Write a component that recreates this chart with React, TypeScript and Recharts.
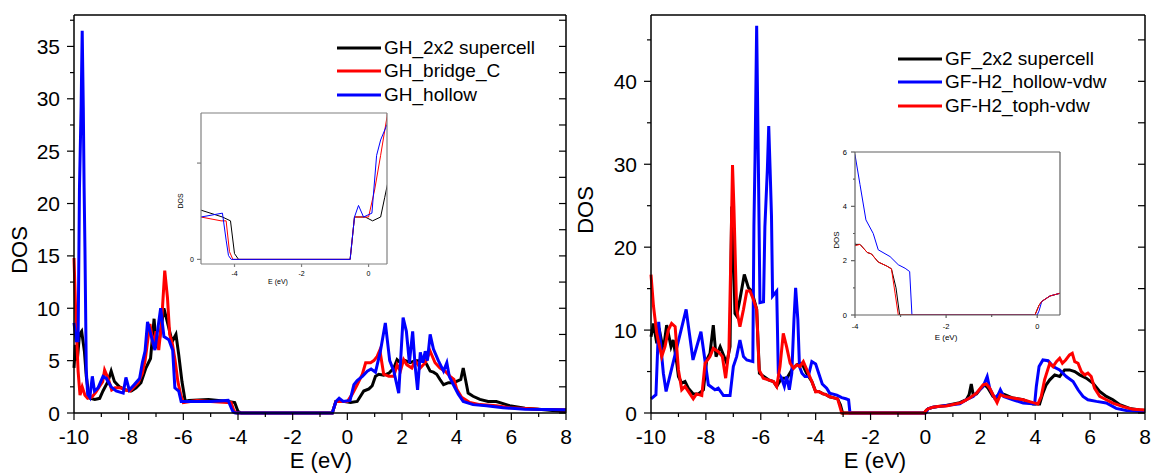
import React from 'react';
import { LineChart, Line, XAxis, YAxis } from 'recharts';

const FONT = 'Arial, "Liberation Sans", Helvetica, sans-serif';

type Pt = [number, number];

// ---- left panel: graphene + H (E in eV, DOS) ----
const ghSupercell: Pt[] = [
  [-10, 4.3], [-9.95, 6.5], [-9.88, 5.0], [-9.8, 7.5], [-9.72, 7.8], [-9.62, 5.9], [-9.55, 3.5],
  [-9.48, 2.1], [-9.4, 1.4], [-9.24, 1.3], [-9.06, 1.4], [-8.94, 2.1], [-8.76, 3.0], [-8.64, 4.0],
  [-8.52, 3.0], [-8.34, 2.5], [-8.1, 2.2], [-7.9, 2.1], [-7.73, 2.4], [-7.55, 2.9], [-7.37, 4.3],
  [-7.2, 5.2], [-7.07, 9.0], [-6.99, 6.2], [-6.87, 7.1], [-6.71, 10.0], [-6.53, 8.1], [-6.41, 6.8],
  [-6.27, 7.5], [-6.17, 5.6], [-6.05, 3.0], [-5.93, 1.1], [-5.8, 1.2], [-5.08, 1.3], [-4.36, 1.1],
  [-4.12, 1.0], [-4.0, 0.15], [-3.88, 0], [-0.55, 0], [-0.42, 1.1], [-0.1, 1.1], [0.12, 1.0],
  [0.36, 1.1], [0.48, 1.6], [0.6, 2.1], [0.79, 2.3], [0.91, 2.6], [1.03, 3.5], [1.15, 3.7],
  [1.33, 3.6], [1.52, 3.8], [1.7, 4.3], [1.82, 5.1], [1.94, 4.8], [2.12, 5.0], [2.3, 4.8],
  [2.48, 5.0], [2.67, 5.0], [2.79, 5.1], [2.91, 4.6], [3.03, 4.0], [3.15, 3.9], [3.27, 3.7],
  [3.39, 3.2], [3.52, 2.7], [3.7, 2.9], [3.88, 2.9], [4.06, 3.1], [4.15, 3.2], [4.24, 4.3],
  [4.33, 3.1], [4.42, 1.9], [4.6, 1.6], [4.85, 1.3], [5.15, 1.1], [5.45, 1.1], [5.7, 0.9],
  [5.94, 0.7], [6.5, 0.45], [7, 0.35], [7.5, 0.25], [8, 0.15],
];

const ghBridgeC: Pt[] = [
  [-10, 14.8], [-9.93, 9.0], [-9.85, 4.0], [-9.78, 1.7], [-9.7, 2.5], [-9.6, 1.7], [-9.5, 1.4],
  [-9.35, 1.5], [-9.2, 2.0], [-9.05, 2.6], [-8.95, 3.0], [-8.88, 4.1], [-8.75, 3.3], [-8.62, 2.2],
  [-8.5, 2.4], [-8.3, 2.4], [-8.1, 2.2], [-7.95, 2.1], [-7.8, 2.5], [-7.65, 2.9], [-7.5, 3.8],
  [-7.4, 5.0], [-7.3, 7.0], [-7.22, 8.5], [-7.1, 6.5], [-7.0, 7.8], [-6.9, 6.0], [-6.8, 8.5],
  [-6.68, 13.6], [-6.58, 11.0], [-6.5, 7.5], [-6.4, 6.6], [-6.3, 5.0], [-6.2, 3.0], [-6.1, 1.8],
  [-6.0, 1.0], [-5.5, 1.2], [-5.0, 1.1], [-4.4, 1.0], [-4.25, 1.0], [-4.15, 0.2], [-4.05, 0],
  [-0.55, 0], [-0.42, 1.1], [0.0, 1.1], [0.18, 1.8], [0.36, 2.7], [0.55, 3.7], [0.67, 4.8],
  [0.85, 4.8], [0.97, 5.0], [1.09, 5.4], [1.19, 6.0], [1.33, 3.7], [1.52, 3.5], [1.7, 3.5],
  [1.82, 4.6], [1.94, 4.0], [2.06, 5.1], [2.18, 4.6], [2.36, 4.3], [2.48, 5.0], [2.67, 4.3],
  [2.85, 4.8], [3.03, 5.9], [3.21, 4.8], [3.39, 4.3], [3.58, 4.0], [3.76, 3.5], [3.9, 3.2],
  [4.0, 2.3], [4.18, 1.5], [4.48, 1.0], [4.85, 0.8], [5.45, 0.7], [5.94, 0.5], [7, 0.35], [8, 0.3],
];

const ghHollow: Pt[] = [
  [-10, 8.6], [-9.92, 6.9], [-9.85, 6.9], [-9.8, 21.5], [-9.74, 29.2], [-9.7, 36.5], [-9.66, 29.2],
  [-9.63, 21.5], [-9.6, 15.8], [-9.55, 4.0], [-9.5, 1.8], [-9.42, 1.5], [-9.33, 3.5], [-9.25, 2.1],
  [-9.12, 2.4], [-8.94, 3.5], [-8.82, 3.3], [-8.64, 2.5], [-8.46, 2.1], [-8.2, 1.9], [-8.1, 3.4],
  [-7.98, 2.2], [-7.8, 2.7], [-7.6, 3.3], [-7.5, 4.8], [-7.4, 5.9], [-7.31, 8.7], [-7.19, 7.5],
  [-7.04, 6.0], [-6.83, 10.0], [-6.71, 7.3], [-6.53, 7.0], [-6.39, 6.0], [-6.31, 2.4], [-6.17, 2.1],
  [-6.08, 1.1], [-5.9, 1.1], [-5.0, 1.1], [-4.36, 1.2], [-4.25, 0.5], [-4.18, 0.1], [-4.1, 0],
  [-0.55, 0], [-0.42, 1.1], [-0.3, 1.4], [-0.15, 1.1], [0.1, 1.2], [0.24, 2.7], [0.36, 3.1],
  [0.55, 3.5], [0.73, 4.0], [0.87, 4.2], [1.03, 3.9], [1.21, 5.9], [1.39, 8.6], [1.55, 5.0],
  [1.7, 4.0], [1.88, 1.9], [2.04, 9.1], [2.16, 7.8], [2.27, 4.8], [2.39, 7.8], [2.48, 4.5],
  [2.57, 2.2], [2.67, 5.8], [2.76, 4.8], [2.85, 5.9], [2.93, 5.0], [3.03, 7.5], [3.15, 6.1],
  [3.33, 5.0], [3.52, 4.0], [3.64, 4.8], [3.73, 3.5], [3.88, 2.7], [4.06, 1.8], [4.24, 1.1],
  [4.6, 0.8], [5.09, 0.7], [5.7, 0.5], [6.5, 0.35], [8, 0.3],
];

// ---- right panel: fluorographene + H2 ----
const gfSupercell: Pt[] = [
  [-10, 9.2], [-9.91, 10.8], [-9.79, 8.4], [-9.67, 9.6], [-9.55, 7.6], [-9.43, 10.6], [-9.27, 8.0],
  [-9.19, 8.8], [-9.06, 6.0], [-9.0, 4.4], [-8.88, 3.6], [-8.76, 3.8], [-8.64, 3.0], [-8.46, 2.3],
  [-8.27, 2.3], [-8.09, 2.8], [-7.97, 6.4], [-7.85, 7.2], [-7.73, 10.6], [-7.63, 6.8], [-7.48, 8.0],
  [-7.36, 7.0], [-7.24, 6.0], [-7.12, 8.0], [-7.06, 24.9], [-7.0, 20.0], [-6.94, 12.0], [-6.88, 11.7],
  [-6.76, 13.7], [-6.6, 16.7], [-6.45, 15.1], [-6.33, 14.7], [-6.15, 12.5], [-6.05, 4.8], [-5.97, 4.6],
  [-5.72, 4.0], [-5.54, 3.8], [-5.42, 3.2], [-5.24, 4.2], [-5.05, 4.2], [-4.87, 5.2], [-4.69, 5.8],
  [-4.5, 6.0], [-4.33, 4.8], [-4.14, 3.8], [-4.0, 2.6], [-3.89, 2.6], [-3.73, 2.3], [-3.64, 2.25],
  [-3.49, 1.95], [-3.3, 1.8], [-3.2, 1.7], [-3.1, 1.0], [-3.02, 0], [-0.05, 0], [0.04, 0.36],
  [0.1, 0.5], [0.28, 0.7], [0.5, 0.8], [0.76, 0.9], [1.25, 1.25], [1.49, 1.6], [1.59, 2.2],
  [1.67, 3.5], [1.74, 2.2], [1.86, 2.3], [1.98, 2.8], [2.16, 3.4], [2.28, 3.0], [2.46, 2.0],
  [2.58, 1.8], [2.7, 2.4], [2.89, 2.2], [3.19, 1.8], [3.56, 1.6], [3.92, 1.1], [4.16, 1.1],
  [4.28, 2.4], [4.4, 3.4], [4.53, 4.0], [4.71, 4.6], [4.89, 4.4], [5.07, 5.2], [5.25, 5.2],
  [5.44, 5.0], [5.62, 4.6], [5.86, 4.2], [6.1, 3.6], [6.35, 2.6], [6.59, 2.0], [6.83, 1.6],
  [7.08, 1.0], [7.44, 0.56], [7.8, 0.36], [8, 0.3],
];

const gfHollowVdw: Pt[] = [
  [-10, 1.7], [-9.82, 2.2], [-9.72, 11.0], [-9.64, 8.0], [-9.55, 4.8], [-9.45, 2.6], [-8.72, 12.5],
  [-8.47, 6.4], [-8.18, 9.8], [-7.91, 3.4], [-7.67, 2.8], [-7.55, 3.0], [-7.36, 2.1], [-7.12, 2.1],
  [-7.0, 5.6], [-6.88, 6.8], [-6.76, 8.8], [-6.63, 6.8], [-6.51, 6.4], [-6.29, 6.2], [-6.25, 22.5],
  [-6.21, 30.6], [-6.18, 38.7], [-6.15, 46.7], [-6.12, 38.7], [-6.09, 30.6], [-6.03, 13.3],
  [-5.9, 13.4], [-5.85, 22.5], [-5.76, 29.4], [-5.71, 34.6], [-5.66, 29.4], [-5.61, 23.8],
  [-5.57, 14.1], [-5.42, 14.7], [-5.36, 4.8], [-5.24, 4.2], [-5.14, 3.2], [-5.06, 4.4], [-4.96, 2.8],
  [-4.87, 4.8], [-4.79, 11.3], [-4.73, 15.1], [-4.65, 11.3], [-4.59, 5.6], [-4.5, 4.8], [-4.39, 4.4],
  [-4.27, 4.4], [-4.14, 6.2], [-4.0, 5.9], [-3.89, 4.8], [-3.76, 3.5], [-3.6, 3.0], [-3.49, 2.4],
  [-3.23, 2.15], [-3.05, 1.85], [-2.9, 1.72], [-2.8, 1.6], [-2.75, 0], [0.0, 0], [0.04, 0.15],
  [0.1, 0.5], [0.28, 0.7], [0.5, 0.8], [0.76, 0.9], [1.25, 1.1], [1.49, 1.6], [1.74, 2.0],
  [1.98, 2.8], [2.1, 3.2], [2.25, 4.4], [2.34, 3.0], [2.52, 1.8], [2.65, 2.2], [2.73, 2.8],
  [2.85, 2.0], [3.19, 1.6], [3.56, 1.2], [3.98, 1.1], [4.04, 3.2], [4.14, 5.6], [4.28, 6.4],
  [4.47, 6.3], [4.65, 5.6], [4.89, 5.2], [5.13, 4.4], [5.38, 3.8], [5.56, 2.8], [5.74, 2.0],
  [5.92, 1.6], [6.23, 1.4], [6.59, 1.2], [6.95, 0.56], [7.32, 0.3], [8, 0.15],
];

const gfTophVdw: Pt[] = [
  [-10, 16.7], [-9.91, 12.9], [-9.79, 9.6], [-9.61, 6.8], [-9.49, 8.0], [-9.37, 10.0], [-9.25, 10.8],
  [-9.12, 10.4], [-9.0, 5.2], [-8.88, 2.8], [-8.76, 3.2], [-8.64, 2.6], [-8.46, 1.7], [-8.34, 2.3],
  [-8.15, 2.1], [-8.03, 6.0], [-7.85, 6.8], [-7.73, 7.8], [-7.55, 7.4], [-7.4, 6.8], [-7.28, 4.2],
  [-7.16, 7.6], [-7.08, 20.6], [-7.03, 29.9], [-6.98, 25.0], [-6.94, 20.0], [-6.88, 12.5],
  [-6.76, 10.4], [-6.63, 12.5], [-6.51, 14.7], [-6.39, 14.7], [-6.27, 13.7], [-6.15, 12.5],
  [-6.06, 5.2], [-5.91, 4.2], [-5.72, 4.0], [-5.54, 3.8], [-5.42, 3.2], [-5.3, 5.6], [-5.18, 9.6],
  [-5.06, 8.0], [-4.93, 6.0], [-4.81, 5.4], [-4.69, 5.8], [-4.57, 5.6], [-4.45, 6.2], [-4.27, 4.8],
  [-4.14, 3.8], [-4.0, 2.55], [-3.89, 2.6], [-3.73, 2.3], [-3.64, 2.25], [-3.49, 1.95], [-3.3, 1.8],
  [-3.2, 1.7], [-3.12, 0.8], [-3.05, 0], [-0.05, 0], [0.04, 0.36], [0.1, 0.5], [0.28, 0.7],
  [0.5, 0.8], [0.76, 0.85], [1.31, 1.25], [1.61, 1.8], [1.86, 2.4], [2.1, 3.4], [2.22, 3.5],
  [2.34, 3.0], [2.46, 2.2], [2.61, 1.25], [2.73, 2.2], [2.89, 2.0], [3.19, 1.8], [3.56, 1.6],
  [3.92, 1.25], [4.1, 1.1], [4.22, 2.0], [4.34, 4.0], [4.53, 6.0], [4.65, 5.6], [4.77, 6.2],
  [4.89, 6.6], [4.99, 6.0], [5.11, 6.4], [5.25, 7.0], [5.35, 7.2], [5.44, 6.2], [5.56, 6.0],
  [5.68, 5.0], [5.8, 4.6], [5.92, 4.8], [6.04, 4.4], [6.16, 3.0], [6.35, 2.0], [6.59, 1.6],
  [6.83, 1.2], [7.2, 0.77], [7.56, 0.44], [8, 0.36],
];

// ---- ticks ----
const eTicks = [-10, -9, -8, -7, -6, -5, -4, -3, -2, -1, 0, 1, 2, 3, 4, 5, 6, 7, 8];
const leftDosTicks = [0, 2.5, 5, 7.5, 10, 12.5, 15, 17.5, 20, 22.5, 25, 27.5, 30, 32.5, 35, 37.5];
const rightDosTicks = [0, 5, 10, 15, 20, 25, 30, 35, 40, 45];
const leftInsetETicks = [-4, -2, 0];
const leftInsetDosTicks = [0, 2.5];
const rightInsetETicks = [-4, -3, -2, -1, 0];
const rightInsetDosTicks = [0, 1, 2, 3, 4, 5, 6];

const leftSeries = [
  { name: 'GH_2x2 supercell', color: '#000000', pts: ghSupercell },
  { name: 'GH_bridge_C', color: '#ff0000', pts: ghBridgeC },
  { name: 'GH_hollow', color: '#0000ff', pts: ghHollow },
];
const rightSeries = [
  { name: 'GF_2x2 supercell', color: '#000000', pts: gfSupercell },
  { name: 'GF-H2_hollow-vdw', color: '#0000ff', pts: gfHollowVdw },
  { name: 'GF-H2_toph-vdw', color: '#ff0000', pts: gfTophVdw },
];

const toXY = (pts: Pt[]) => pts.map(([x, y]) => ({ x, y }));

type Side = 'bottom' | 'top' | 'left' | 'right';
interface TickOpts {
  side: Side;
  major: number;
  len: number;
  minorLen: number;
  outward: boolean;
  labels?: boolean;
  fontSize?: number;
  gap?: number;
  stroke?: string;
  only?: number[];
}

// draws tick mark (major/minor) + label; axis uses tickSize=0 so x/y sit on the axis line
function makeTick(o: TickOpts) {
  return function TickMark(props: any) {
    const { x, y, payload } = props;
    const v: number = payload.value;
    const isMajor = Math.abs(v / o.major - Math.round(v / o.major)) < 1e-6;
    const l = isMajor ? o.len : o.minorLen;
    const s = o.outward ? 1 : -1;
    let x2 = x;
    let y2 = y;
    if (o.side === 'bottom') y2 = y + s * l;
    if (o.side === 'top') y2 = y - s * l;
    if (o.side === 'left') x2 = x - s * l;
    if (o.side === 'right') x2 = x + s * l;
    const showLabel = o.labels && isMajor && (!o.only || o.only.includes(v));
    return (
      <g>
        {l > 0 && <line x1={x} y1={y} x2={x2} y2={y2} stroke={o.stroke || '#000'} strokeWidth={1.2} />}
        {showLabel && o.side === 'bottom' && (
          <text x={x} y={y + (o.gap || 0)} textAnchor="middle" dominantBaseline="central"
            fontSize={o.fontSize} fontFamily={FONT} fill="#000">{String(v)}</text>
        )}
        {showLabel && o.side === 'left' && (
          <text x={x - (o.gap || 0)} y={y} textAnchor="end" dominantBaseline="central"
            fontSize={o.fontSize} fontFamily={FONT} fill="#000">{String(v)}</text>
        )}
      </g>
    );
  };
}

interface PanelProps {
  left: number;
  width: number;
  plotLeft: number;
  plotRight: number;
  yMax: number;
  yTicks: number[];
  yMajor: number;
  series: { name: string; color: string; pts: Pt[] }[];
}

// top/right axes are 1px thick (a 0px axis is not drawn), so margins are 1px smaller
function Panel({ left, width, plotLeft, plotRight, yMax, yTicks, yMajor, series }: PanelProps) {
  const frame = { stroke: '#000', strokeWidth: 1.5 };
  return (
    <div style={{ position: 'absolute', left, top: 0 }}>
      <LineChart width={width} height={476} margin={{ top: 14, right: width - plotRight - 1, bottom: 0, left: 0 }}>
        <XAxis xAxisId="b" type="number" dataKey="x" domain={[-10, 8]} ticks={eTicks} interval={0}
          height={63} tickSize={0} tickMargin={0} tickLine={false} axisLine={frame}
          tick={makeTick({ side: 'bottom', major: 2, len: 7, minorLen: 4, outward: true, labels: true, fontSize: 21, gap: 23 })} />
        <XAxis xAxisId="t" orientation="top" type="number" domain={[-10, 8]} ticks={eTicks} interval={0}
          allowDataOverflow height={1} tickSize={0} tickMargin={0} tickLine={false} axisLine={frame}
          tick={makeTick({ side: 'top', major: 2, len: 7, minorLen: 5, outward: false })} />
        <YAxis yAxisId="l" type="number" domain={[0, yMax]} ticks={yTicks} interval={0}
          width={plotLeft} tickSize={0} tickMargin={0} tickLine={false} axisLine={frame}
          tick={makeTick({ side: 'left', major: yMajor, len: 7, minorLen: 4, outward: true, labels: true, fontSize: 21, gap: 14 })} />
        <YAxis yAxisId="r" orientation="right" type="number" domain={[0, yMax]} ticks={yTicks} interval={0}
          allowDataOverflow width={1} tickSize={0} tickMargin={0} tickLine={false} axisLine={frame}
          tick={makeTick({ side: 'right', major: yMajor, len: 7, minorLen: 7, outward: false })} />
        {series.map((s) => (
          <Line key={s.name} xAxisId="b" yAxisId="l" data={toXY(s.pts)} dataKey="y" type="linear"
            stroke={s.color} strokeWidth={3} dot={false} activeDot={false} isAnimationActive={false} />
        ))}
      </LineChart>
    </div>
  );
}

interface InsetProps {
  left: number;
  top: number;
  width: number;
  height: number;
  margin: { top: number; right: number; bottom: number; left: number };
  yWidth: number;
  xHeight: number;
  xDomain: [number, number];
  yDomain: [number, number];
  xTicks: number[];
  yTicks: number[];
  xMajor: number;
  yMajor: number;
  yOnly?: number[];
  fontSize: number;
  xGap: number;
  yGap: number;
  border: string;
  series: { name: string; color: string; pts: Pt[] }[];
}

function Inset(p: InsetProps) {
  const line = { stroke: p.border, strokeWidth: 1.2 };
  return (
    <div style={{ position: 'absolute', left: p.left, top: p.top }}>
      <LineChart width={p.width} height={p.height} margin={p.margin}>
        <XAxis xAxisId="b" type="number" dataKey="x" domain={p.xDomain} ticks={p.xTicks} interval={0}
          allowDataOverflow height={p.xHeight} tickSize={0} tickMargin={0} tickLine={false} axisLine={line}
          tick={makeTick({ side: 'bottom', major: p.xMajor, len: 3, minorLen: 2, outward: true, labels: true, fontSize: p.fontSize, gap: p.xGap, stroke: p.border })} />
        <XAxis xAxisId="t" orientation="top" type="number" domain={p.xDomain} ticks={p.xTicks} interval={0}
          allowDataOverflow height={1} tickSize={0} tickMargin={0} tickLine={false} axisLine={line}
          tick={makeTick({ side: 'top', major: p.xMajor, len: 3, minorLen: 3, outward: true, stroke: p.border })} />
        <YAxis yAxisId="l" type="number" domain={p.yDomain} ticks={p.yTicks} interval={0}
          allowDataOverflow width={p.yWidth} tickSize={0} tickMargin={0} tickLine={false} axisLine={line}
          tick={makeTick({ side: 'left', major: p.yMajor, len: 4, minorLen: 2, outward: true, labels: true, fontSize: p.fontSize, gap: p.yGap, stroke: p.border, only: p.yOnly })} />
        <YAxis yAxisId="r" orientation="right" type="number" domain={p.yDomain} ticks={p.yTicks} interval={0}
          allowDataOverflow width={1} tickSize={0} tickMargin={0} tickLine={false} axisLine={line}
          tick={makeTick({ side: 'right', major: p.yMajor, len: 0, minorLen: 0, outward: true, stroke: p.border })} />
        {p.series.map((s) => (
          <Line key={s.name} xAxisId="b" yAxisId="l" data={toXY(s.pts)} dataKey="y" type="linear"
            stroke={s.color} strokeWidth={1} dot={false} activeDot={false} isAnimationActive={false} />
        ))}
      </LineChart>
    </div>
  );
}

function LegendBox({ items, left, top }: { items: { name: string; color: string }[]; left: number; top: number }) {
  return (
    <div style={{ position: 'absolute', left, top, fontFamily: FONT, fontSize: 19, color: '#000' }}>
      {items.map((s) => (
        <div key={s.name} style={{ display: 'flex', alignItems: 'center', height: 23.5, whiteSpace: 'nowrap' }}>
          <svg width={44} height={6}>
            <line x1={0} y1={3} x2={44} y2={3} stroke={s.color} strokeWidth={3} />
          </svg>
          <span style={{ marginLeft: 3 }}>{s.name}</span>
        </div>
      ))}
    </div>
  );
}

function Title({ text, x, y, size, rotate }: { text: string; x: number; y: number; size: number; rotate?: boolean }) {
  return (
    <div style={{
      position: 'absolute', left: x, top: y, fontFamily: FONT, fontSize: size, color: '#000',
      whiteSpace: 'nowrap', lineHeight: 1,
      transform: `translate(-50%, -50%)${rotate ? ' rotate(-90deg)' : ''}`,
    }}>{text}</div>
  );
}

export default function App() {
  return (
    <div style={{ position: 'absolute', left: 0, top: 0, width: 1153, height: 476, background: '#fff', overflow: 'hidden' }}>
      <Panel left={0} width={580} plotLeft={74} plotRight={566} yMax={38} yTicks={leftDosTicks} yMajor={5} series={leftSeries} />
      <Panel left={580} width={573} plotLeft={71} plotRight={565} yMax={48} yTicks={rightDosTicks} yMajor={10} series={rightSeries} />

      <Inset left={170} top={100} width={230} height={190} margin={{ top: 12, right: 12, bottom: 0, left: 0 }}
        yWidth={31} xHeight={26} xDomain={[-5, 0.55]} yDomain={[-0.12, 3.8]} xTicks={leftInsetETicks}
        yTicks={leftInsetDosTicks} xMajor={2} yMajor={2.5} yOnly={[0]} fontSize={7} xGap={9} yGap={7}
        border="#808080" series={leftSeries} />
      <Inset left={820} top={140} width={250} height={210} margin={{ top: 11, right: 9, bottom: 0, left: 0 }}
        yWidth={35} xHeight={35} xDomain={[-4, 0.5]} yDomain={[0, 6]} xTicks={rightInsetETicks}
        yTicks={rightInsetDosTicks} xMajor={2} yMajor={2} fontSize={7.5} xGap={11} yGap={8}
        border="#606060" series={rightSeries} />

      <LegendBox items={leftSeries} left={337} top={36} />
      <LegendBox items={rightSeries} left={898} top={47} />

      <Title text="DOS" x={20} y={250} size={22} rotate />
      <Title text="E (eV)" x={321} y={461} size={22} />
      <Title text="DOS" x={586} y={210} size={22} rotate />
      <Title text="E (eV)" x={875} y={461} size={22} />

      <Title text="DOS" x={180} y={201} size={7} rotate />
      <Title text="E (eV)" x={278} y={281} size={7} />
      <Title text="DOS" x={837} y={240} size={8} rotate />
      <Title text="E (eV)" x={946} y={338} size={8} />
    </div>
  );
}
